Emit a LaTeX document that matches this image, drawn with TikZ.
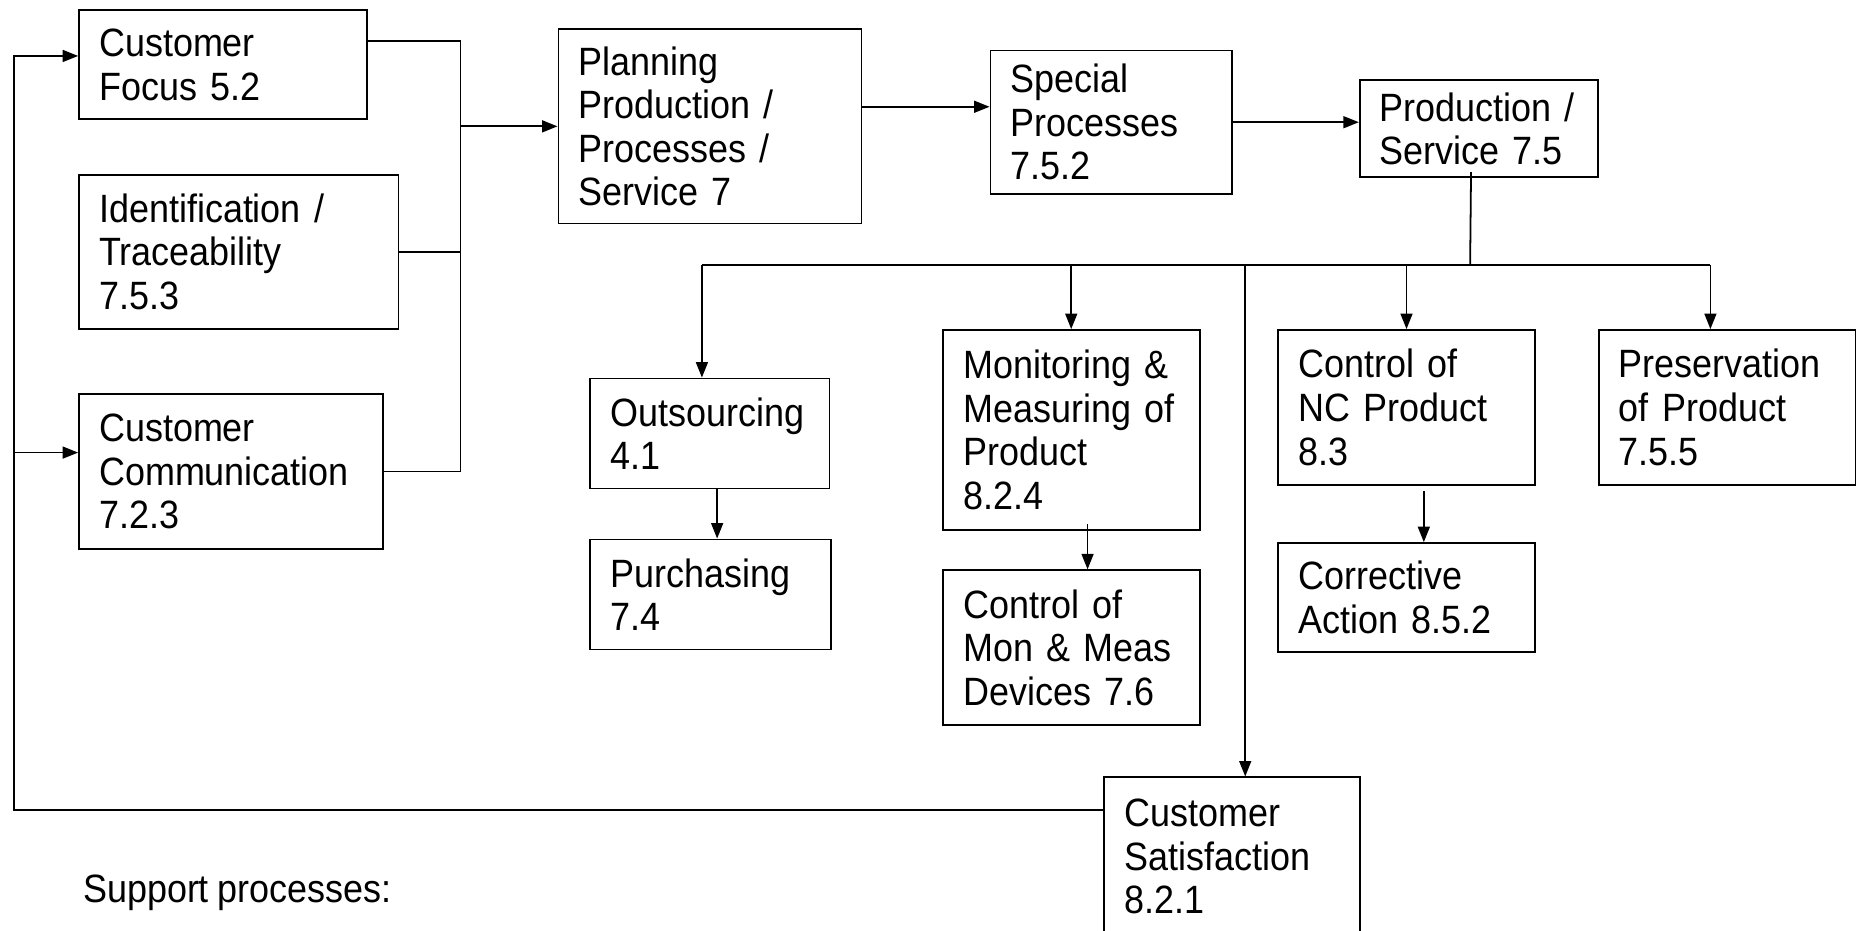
\documentclass[tikz,border=0pt]{standalone}
\usepackage{fontspec}
\setmainfont{Liberation Sans}[FakeStretch=0.91]
\usetikzlibrary{arrows.meta,calc}
\hyphenpenalty=10000
\exhyphenpenalty=10000
\newcommand\boxfont{\fontsize{33.5}{37}\selectfont\spaceskip=7.6bp plus 2bp minus 1bp\relax}
\tikzset{
  proc/.style n args={2}{draw, line width=1.5bp, rectangle, anchor=north west,
    minimum width=#1*1bp, minimum height=#2*1bp, text width=#1*1bp-34bp,
    inner xsep=17bp, inner ysep=0pt, align=left, font=\boxfont},
  link/.style={line width=1.5bp},
  arr/.style={line width=1.5bp, -{Triangle[length=13bp,width=10bp]}},
}
\begin{document}
\begin{tikzpicture}[x=1bp,y=-1bp]
\useasboundingbox (0,0) rectangle (1568,786);
\clip (0,0) rectangle (1568,786);

% input processes
\node[proc={243}{92}]  (cf)    at (66,8)    {Customer\\Focus 5.2};
\node[proc={270}{130}] (id)    at (66,147)  {Identification /\\Traceability\\7.5.3};
\node[proc={257}{131}] (cc)    at (66,332)  {Customer\\Communication\\7.2.3};

% main chain
\node[proc={256}{164}] (plan)  at (471,24)  {Planning\\Production /\\Processes /\\Service 7};
\node[proc={204}{121}] (spec)  at (836,42)  {Special\\Processes\\7.5.2};
\node[proc={201}{82}]  (prod)  at (1148,67) {Production /\\Service 7.5};

% branches
\node[proc={202}{93}]  (outs)  at (498,319) {Outsourcing\\4.1};
\node[proc={203}{93}]  (purch) at (498,455) {Purchasing\\7.4};
\node[proc={217}{169}] (mon)   at (796,278) {Monitoring \&\\Measuring of\\Product\\8.2.4};
\node[proc={217}{131}] (cmon)  at (796,481) {Control of\\Mon \& Meas\\Devices 7.6};
\node[proc={217}{131}] (cnc)   at (1079,278) {Control of\\NC Product\\8.3};
\node[proc={217}{131}] (pres)  at (1350,278) {Preservation\\of Product\\7.5.5};
\node[proc={217}{92}]  (corr)  at (1079,458) {Corrective\\Action 8.5.2};
\node[proc={216}{134}] (csat)  at (932,656) {Customer\\Satisfaction\\8.2.1};

\node[anchor=west, inner sep=0pt, font=\boxfont] (sup) at (70,754) {Support processes:};

% collector bus on the left
\coordinate (busx) at (389,0);
\coordinate (cfout) at ($(cf.north east)!0.283!(cf.south east)$);
\draw[link] (cfout) -- (cfout -| busx) -- (cc.east -| busx) -- (cc.east);
\draw[link] (id.east) -- (id.east -| busx);
\draw[arr] (plan.west -| busx) -- (plan.west);

% main chain arrows
\coordinate (p1) at ($(plan.north east)!0.4!(plan.south east)$);
\draw[arr] (p1) -- (p1 -| spec.west);
\draw[arr] (spec.east) -- (spec.east -| prod.west);

% distribution bus below production
\coordinate (pd) at ($(prod.south west)!0.468!(prod.south east)$);
\coordinate (hub) at (1242,224);
\coordinate (bl) at (593,224);
\coordinate (br) at (1445,224);
\coordinate (bm) at (905,224);
\coordinate (bs) at (1052,224);
\draw[link] ([yshift=5bp]pd) -- (hub);
\draw[link] (bl) -- (br);
\draw[arr] (bl) -- (bl |- outs.north);
\draw[arr] (bm) -- (bm |- mon.north);
\draw[arr] (cnc.north |- hub) -- (cnc.north);
\draw[arr] (br) -- (br |- pres.north);
\draw[arr] (bs) -- (bs |- csat.north);

% secondary links
\coordinate (o1) at ($(outs.south west)!0.53!(outs.south east)$);
\draw[arr] (o1) -- (o1 |- purch.north);
\coordinate (m1) at ($(mon.south west)!0.562!(mon.south east)$);
\draw[arr] ([yshift=6bp]m1) -- (m1 |- cmon.north);
\coordinate (n1) at ($(cnc.south west)!0.567!(cnc.south east)$);
\draw[arr] ([yshift=-4bp]n1) -- (n1 |- corr.north);

% feedback loop
\coordinate (fbx) at (12,0);
\coordinate (c1) at ($(csat.north west)!0.21!(csat.south west)$);
\coordinate (cfin) at ($(cf.north west)!0.42!(cf.south west)$);
\coordinate (ccin) at ($(cc.north west)!0.38!(cc.south west)$);
\draw[arr] (c1) -- (c1 -| fbx) |- (cfin);
\draw[arr] (ccin -| fbx) -- (ccin);
\end{tikzpicture}
\end{document}
